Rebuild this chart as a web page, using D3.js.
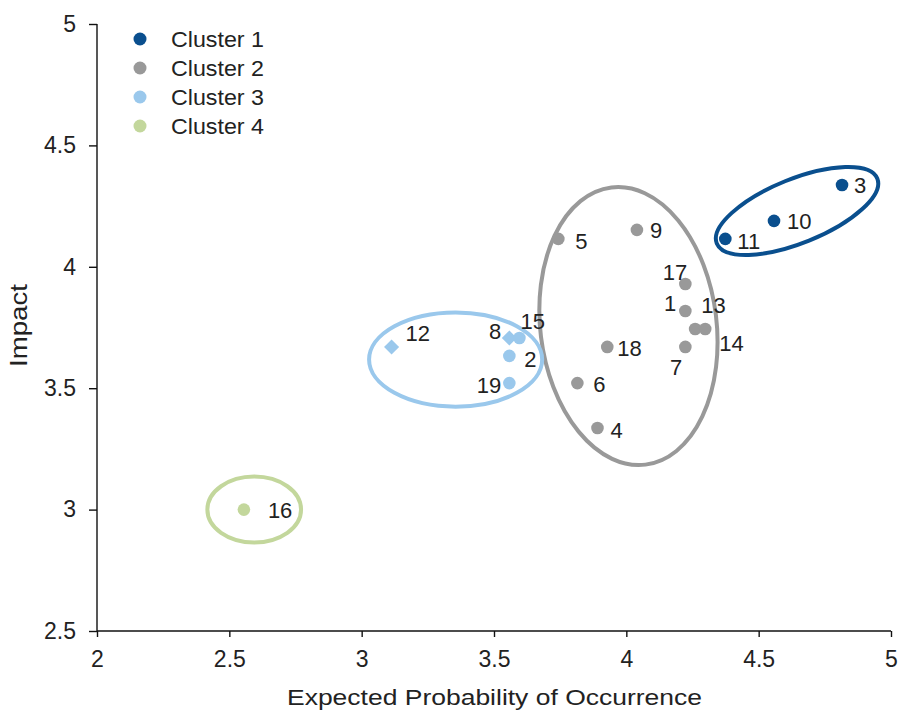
<!DOCTYPE html>
<html><head><meta charset="utf-8">
<script src="https://cdn.jsdelivr.net/npm/d3@7"></script>
<style>
body{margin:0;background:#fff;}
text{font-family:"Liberation Sans",Arial,sans-serif;fill:#222;}
</style></head>
<body><svg id="chart" width="901" height="710"></svg>
<script>
// ---- data ----
const ids      = [3, 10, 11, 5, 9, 17, 1, 13, 14, 7, 18, 6, 4, 12, 8, 15, 2, 19, 16];
const probs    = [4.815, 4.558, 4.374, 3.743, 4.04, 4.223, 4.223, 4.26, 4.298, 4.223, 3.928, 3.815, 3.891, 3.113, 3.558, 3.596, 3.558, 3.558, 2.555];
const impacts  = [4.337, 4.189, 4.115, 4.115, 4.152, 3.929, 3.818, 3.744, 3.744, 3.67, 3.67, 3.521, 3.336, 3.67, 3.707, 3.707, 3.633, 3.521, 3.0];
const clusters = [1, 1, 1, 2, 2, 2, 2, 2, 2, 2, 2, 2, 2, 3, 3, 3, 3, 3, 4];
const shapes   = ["c","c","c","c","c","c","c","c","c","c","c","c","c","d","d","c","c","c","c"];
const clusterNames = ["Cluster 1", "Cluster 2", "Cluster 3", "Cluster 4"];
const xTicks = [2, 2.5, 3, 3.5, 4, 4.5, 5];
const yTicks = [2.5, 3, 3.5, 4, 4.5, 5];
// cluster ellipses in data units: centre x, centre y, half-width (x units), half-height (y units), rotation (deg)
const ellCx = [4.645, 4.008, 3.355, 2.594];
const ellCy = [4.23, 3.756, 3.618, 3.0];
const ellRx = [0.327, 0.333, 0.327, 0.177];
const ellRy = [0.132, 0.575, 0.194, 0.136];
const ellRot = [-22, -7, 0, 0];

// ---- layout / style ----
const colors = ["#0a4f8e", "#999999", "#9ac8ec", "#c3d79c"];
const labelOff = {3:[12,0,"start"],10:[13,0,"start"],11:[12,2,"start"],5:[17,2,"start"],9:[13,0,"start"],
  17:[2,-12,"end"],1:[-9,-8,"end"],13:[6,-24,"start"],14:[14,14,"start"],7:[-3,20,"end"],18:[10,1,"start"],
  6:[16,1,"start"],4:[13,2,"start"],12:[14,-14,"start"],8:[-8,-7,"end"],15:[1,-17,"start"],2:[15,3,"start"],
  19:[-8,2,"end"],16:[24,1,"start"]};

const svg = d3.select("#chart");
const x = d3.scaleLinear().domain([2,5]).range([97,891]);
const y = d3.scaleLinear().domain([2.5,5]).range([631,24]);
const FS = 22, TFS = 23;

// axes
const gx = svg.append("g").attr("transform","translate(0,631)")
  .call(d3.axisBottom(x).tickValues(xTicks).tickSize(6).tickPadding(14).tickFormat(d3.format("")));
const gy = svg.append("g").attr("transform","translate(97,0)")
  .call(d3.axisLeft(y).tickValues(yTicks).tickSize(8).tickPadding(13).tickFormat(d3.format("")));
[gx,gy].forEach(g=>{
  g.selectAll("path,line").attr("stroke","#111").attr("stroke-width",1.4);
  g.selectAll("text").attr("font-size",TFS).attr("font-family","Liberation Sans, Arial, sans-serif").attr("fill","#222");
});
gx.select(".domain").attr("d","M97,0H891");
gy.select(".domain").attr("d","M0,24V631");

svg.append("text").attr("x",287).attr("y",705).attr("font-size",FS)
  .attr("textLength",415).attr("lengthAdjust","spacingAndGlyphs")
  .text("Expected Probability of Occurrence");
svg.append("text").attr("transform","translate(27,367) rotate(-90)").attr("font-size",FS+1)
  .attr("textLength",83).attr("lengthAdjust","spacingAndGlyphs")
  .text("Impact");

// ellipses
const eg = svg.append("g");
clusterNames.forEach((n,i)=>{
  const cx = x(ellCx[i]), cy = y(ellCy[i]);
  const rx = x(ellCx[i]+ellRx[i]) - cx, ry = cy - y(ellCy[i]+ellRy[i]);
  eg.append("ellipse").attr("cx",0).attr("cy",0).attr("rx",rx).attr("ry",ry)
    .attr("transform",`translate(${cx},${cy}) rotate(${ellRot[i]})`)
    .attr("fill","none").attr("stroke",colors[i]).attr("stroke-width",4);
});

// points
const pts = ids.map((id,i)=>({id, x:probs[i], y:impacts[i], c:clusters[i], s:shapes[i]}));
const pg = svg.append("g");
pg.selectAll("path.pt").data(pts).join("path").attr("class","pt")
  .attr("transform",d=>`translate(${x(d.x)},${y(d.y)})`)
  .attr("d",d=>d3.symbol().type(d.s==="d"?d3.symbolDiamond2:d3.symbolCircle).size(d.s==="d"?145:125)())
  .attr("fill",d=>colors[d.c-1]);
pg.selectAll("text.lb").data(pts).join("text").attr("class","lb")
  .attr("x",d=>x(d.x)+labelOff[d.id][0]).attr("y",d=>y(d.y)+labelOff[d.id][1])
  .attr("dy","0.35em").attr("text-anchor",d=>labelOff[d.id][2]).attr("font-size",FS)
  .text(d=>d.id);

// legend
const lg = svg.append("g");
clusterNames.forEach((n,i)=>{
  lg.append("circle").attr("cx",140).attr("cy",39+29*i).attr("r",6.5).attr("fill",colors[i]);
  lg.append("text").attr("x",171).attr("y",39+29*i).attr("dy","0.35em").attr("font-size",FS)
    .attr("textLength",93).attr("lengthAdjust","spacingAndGlyphs").text(n);
});
</script></body></html>
